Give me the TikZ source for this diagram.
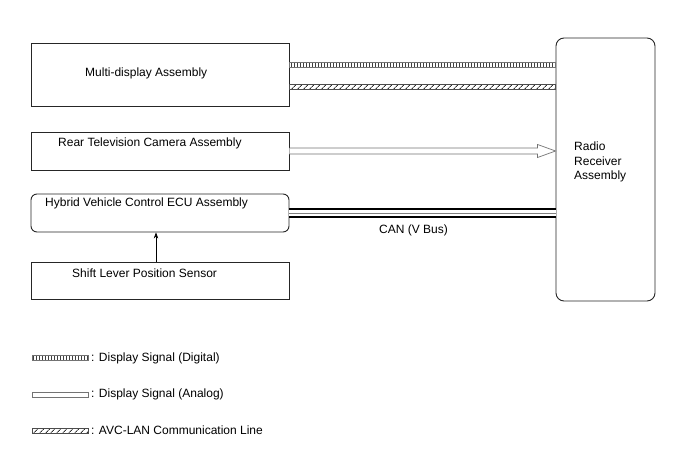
\documentclass[tikz,border=0pt]{standalone}
\usepackage{fontspec}
\setmainfont{Liberation Sans}
\usetikzlibrary{arrows.meta, calc, positioning, patterns.meta}

\begin{document}
\begin{tikzpicture}[
            x = 1pt, y = -1pt,
            > = {Stealth[length = 6pt, width = 4.5pt]},
            font = \fontsize{12}{14.5}\selectfont,
            box/.style = {draw = black!85, line width = .9pt, minimum width = 258pt, inner sep = 0pt},
            rbox/.style = {box, rounded corners = 6pt},
            lbl/.style = {anchor = west, inner sep = 0pt},
            digital/.style = {draw = black!55, line width = .5pt,
                pattern = {Lines[angle = 90, distance = 3pt, line width = 1pt]}, pattern color = black!75},
            avc/.style = {draw = black!70, line width = .5pt,
                pattern = {Lines[angle = 45, distance = 4pt, line width = .9pt]}, pattern color = black!80},
            analog/.style = {draw = black!55, line width = .7pt, fill = white},
            can/.style = {draw = black, line width = 1.8pt, double = white, double distance = 6.2pt},
            sample/.style = {minimum width = 56pt, minimum height = 5pt, inner sep = 0pt, outer sep = 0pt}
        ]
        \useasboundingbox (0,0) rectangle (688,463);

        % boxes
        \node[box, minimum height = 63pt] (mda) at (160, 74.5) {};
        \node[box, minimum height = 38pt] (rtc) at (160, 151) {};
        \node[rbox, minimum height = 38pt] (hv) at (160, 213) {};
        \node[box, minimum height = 37pt] (slp) at (160, 280.5) {};
        \node[box, rounded corners = 8pt, minimum width = 99pt, minimum height = 263pt] (rr) at (605.5, 169.5) {};

        \node[lbl] (mdat) at (85, 73) {Multi-display Assembly};
        \node[lbl] (rtct) at (58, 143) {Rear Television Camera Assembly};
        \node[lbl] (hvt) at (45, 203) {Hybrid Vehicle Control ECU Assembly};
        \node[lbl] (slpt) at (72, 273) {Shift Lever Position Sensor};
        \node[lbl, align = left] (rrt) at (574, 162) {Radio\\Receiver\\Assembly};

        % signal lines
        \path[digital] ($(mda.east)+(0,-12.5)$) rectangle ($(rr.west |- mda.east)+(0,-7.5)$);
        \path[avc] ($(mda.east)+(0,9.5)$) rectangle ($(rr.west |- mda.east)+(0,14.5)$);
        \draw[analog, line join = miter] ($(rtc.east)+(0,-3)$) -- ($(rr.west |- rtc.east)+(-18,-3)$)
            -- ++(0,-3.5) -- (rr.west |- rtc.east) -- ++(-18,6.5) -- ++(0,-3.5) -- ($(rtc.east)+(0,3)$);
        \draw[can] (hv.east) -- (rr.west |- hv.east);
        \draw[black!50, line width = .8pt] (hv.east) -- (rr.west |- hv.east);
        \node (cant) at ($(hv.east)!.5!(rr.west |- hv.east)+(-9,17)$) {CAN (V Bus)};
        \draw[->, line width = .6pt] ($(slp.north)+(-4,0)$) -- ($(hv.south)+(-4,0)$);

        % legend
        \node[sample, digital] (k1) at (60, 358) {};
        \node[lbl, right = 3pt of k1] (k1t) {: Display Signal (Digital)};
        \node[sample, analog] (k2) at (60, 394.5) {};
        \node[lbl, right = 3pt of k2] (k2t) {: Display Signal (Analog)};
        \node[sample, avc] (k3) at (60, 430.5) {};
        \node[lbl, right = 3pt of k3] (k3t) {: AVC-LAN Communication Line};
\end{tikzpicture}
\end{document}
